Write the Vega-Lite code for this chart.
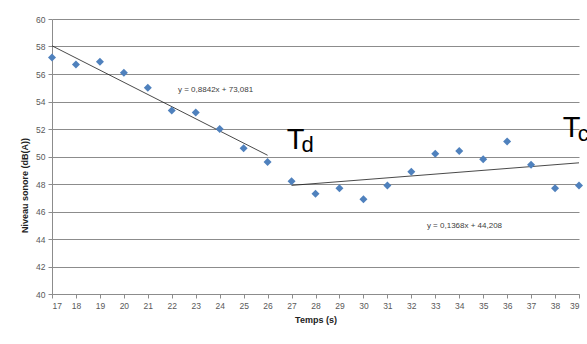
{
  "$schema": "https://vega.github.io/schema/vega-lite/v6.json",
  "autosize": {"type": "none"},
  "width": 527,
  "height": 275,
  "padding": {"left": 52, "top": 19, "right": 8, "bottom": 50},
  "background": "white",
  "config": {
    "view": {"stroke": null},
    "font": "Liberation Sans",
    "axis": {
      "gridColor": "#8c8c8c",
      "gridWidth": 1,
      "domainColor": "#8c8c8c",
      "tickColor": "#8c8c8c",
      "tickSize": 4,
      "labelColor": "#595959",
      "labelFontSize": 8.5,
      "labelFont": "Liberation Sans",
      "titleFont": "Liberation Sans",
      "titleFontSize": 9,
      "titleFontWeight": "bold",
      "titleColor": "#222222"
    }
  },
  "datasets": {
    "pts": [
      {"t": 17, "niveau": 57.2}, {"t": 18, "niveau": 56.7}, {"t": 19, "niveau": 56.9},
      {"t": 20, "niveau": 56.1}, {"t": 21, "niveau": 55.0}, {"t": 22, "niveau": 53.35},
      {"t": 23, "niveau": 53.2}, {"t": 24, "niveau": 52.0}, {"t": 25, "niveau": 50.6},
      {"t": 26, "niveau": 49.6}, {"t": 27, "niveau": 48.2}, {"t": 28, "niveau": 47.3},
      {"t": 29, "niveau": 47.7}, {"t": 30, "niveau": 46.9}, {"t": 31, "niveau": 47.9},
      {"t": 32, "niveau": 48.9}, {"t": 33, "niveau": 50.2}, {"t": 34, "niveau": 50.4},
      {"t": 35, "niveau": 49.8}, {"t": 36, "niveau": 51.1}, {"t": 37, "niveau": 49.4},
      {"t": 38, "niveau": 47.7}, {"t": 39, "niveau": 47.9}
    ],
    "trend": [
      {"serie": "d", "t": 17, "niveau": 58.05},
      {"serie": "d", "t": 26, "niveau": 50.09},
      {"serie": "c", "t": 27, "niveau": 47.9},
      {"serie": "c", "t": 39, "niveau": 49.54}
    ],
    "eq": [
      {"t": 22.26, "niveau": 54.87, "label": "y =  0,8842x + 73,081"},
      {"t": 32.65, "niveau": 44.94, "label": "y = 0,1368x + 44,208"}
    ],
    "bigT": [
      {"t": 26.8, "niveau": 50.56, "label": "T"},
      {"t": 38.32, "niveau": 51.45, "label": "T"}
    ],
    "subs": [
      {"t": 27.42, "niveau": 50.31, "label": "d"},
      {"t": 38.95, "niveau": 51.16, "label": "c"}
    ]
  },
  "encoding": {
    "x": {
      "field": "t", "type": "quantitative",
      "scale": {"domain": [17, 39], "nice": false, "zero": false},
      "axis": {"values": [17,18,19,20,21,22,23,24,25,26,27,28,29,30,31,32,33,34,35,36,37,38,39], "grid": false, "title": "Temps (s)", "labelPadding": 3, "titlePadding": 6}
    },
    "y": {
      "field": "niveau", "type": "quantitative",
      "scale": {"domain": [40, 60], "nice": false, "zero": false},
      "axis": {"values": [40,42,44,46,48,50,52,54,56,58,60], "grid": true, "title": "Niveau sonore (dB(A))", "labelPadding": 3, "titlePadding": 6, "titleY": 166}
    }
  },
  "layer": [
    {
      "data": {"name": "trend"},
      "mark": {"type": "line", "color": "#1a1a1a", "strokeWidth": 0.8},
      "encoding": {"detail": {"field": "serie"}}
    },
    {
      "data": {"name": "pts"},
      "mark": {"type": "point", "shape": "diamond", "filled": true, "size": 64, "color": "#4f81bd", "opacity": 1}
    },
    {
      "data": {"name": "eq"},
      "mark": {"type": "text", "align": "left", "baseline": "middle", "fontSize": 8, "color": "#404040"},
      "encoding": {"text": {"field": "label"}}
    },
    {
      "data": {"name": "bigT"},
      "mark": {"type": "text", "align": "left", "baseline": "alphabetic", "fontSize": 29, "color": "#000000"},
      "encoding": {"text": {"field": "label"}}
    },
    {
      "data": {"name": "subs"},
      "mark": {"type": "text", "align": "left", "baseline": "alphabetic", "fontSize": 22, "color": "#000000"},
      "encoding": {"text": {"field": "label"}}
    }
  ]
}
